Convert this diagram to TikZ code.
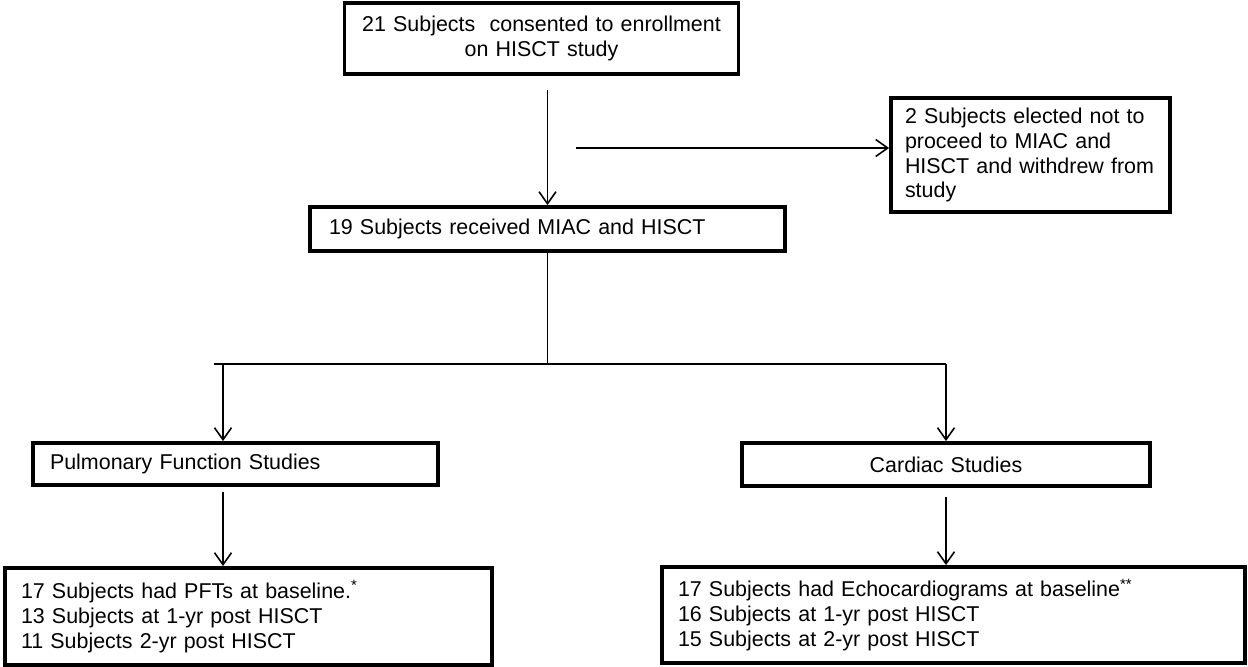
\documentclass[tikz,border=0pt]{standalone}
\usepackage{fontspec}
\setmainfont{Liberation Sans}
\newcommand{\flowsize}{\fontsize{12.2}{14.2}\selectfont}
\usetikzlibrary{positioning, arrows.meta}

\begin{document}
\begin{tikzpicture}[
    font=\flowsize,
    flowbox/.style={draw, line width=2.2pt, inner ysep=0pt, align=left},
    link/.style={line width=0.9pt},
    flowarrow/.style={link, -{Straight Barb[length=2.4mm, width=3.4mm]}}
]
    \useasboundingbox (0, 0) rectangle (24.96, -13.34);

    % ===== Enrollment =====
    \node[flowbox, align=center, text width=7.4cm, inner xsep=0.24cm, minimum height=1.42cm]
        (consent) at (10.83, -0.77) {21 Subjects\ \ consented to enrollment\\on HISCT study};

    % Treated subjects
    \node[flowbox, text width=8.74cm, inner xsep=0.38cm, minimum height=0.88cm]
        (treated) at (10.95, -4.58) {19 Subjects received MIAC and HISCT};

    % Withdrawn subjects
    \node[flowbox, text width=5.02cm, inner xsep=0.28cm, minimum height=2.28cm]
        (withdrawn) at (20.61, -3.10)
        {2 Subjects elected not to\\proceed to MIAC and\\HISCT and withdrew from\\study};

    % ===== Study arms =====
    \node[flowbox, text width=7.42cm, inner xsep=0.34cm, minimum height=0.84cm]
        (pulmonary) at (4.71, -9.28) {Pulmonary Function Studies};
    \node[flowbox, align=center, text width=7.56cm, inner xsep=0.3cm, minimum height=0.86cm]
        (cardiac) at (18.92, -9.29) {Cardiac Studies};

    % ===== Follow-up counts =====
    \node[flowbox, text width=9.1cm, inner xsep=0.32cm, minimum height=1.94cm]
        (pfts) at (4.97, -12.33)
        {17 Subjects had PFTs at baseline.\textsuperscript{*}\\13 Subjects at 1-yr post HISCT\\11 Subjects 2-yr post HISCT};
    \node[flowbox, text width=11.02cm, inner xsep=0.32cm, minimum height=1.92cm]
        (echoes) at (19.07, -12.30)
        {17 Subjects had Echocardiograms at baseline\textsuperscript{**}\\16 Subjects at 1-yr post HISCT\\15 Subjects at 2-yr post HISCT};

    % ===== Connectors =====
    \coordinate (split) at (11.52, -2.96);
    \coordinate (hstart) at (4.28, -7.28);
    \coordinate (lbranch) at (4.46, -7.28);
    \coordinate (rbranch) at (cardiac.north |- lbranch);
    \path (treated.north |- consent.south) ++(0, -0.28) coordinate (drop);
    \path (lbranch |- pulmonary.south) ++(0, -0.1) coordinate (pdrop);
    \path (cardiac.south) ++(0, -0.18) coordinate (cdrop);

    \draw[flowarrow] (drop) -- (treated.north);
    \draw[flowarrow] (split) -- (split -| withdrawn.west);

    % fork into the two arms
    \draw[link] (treated.south) -- (treated.south |- lbranch);
    \draw[link] (hstart) -- (rbranch);
    \draw[flowarrow] (lbranch) -- (lbranch |- pulmonary.north);
    \draw[flowarrow] (rbranch) -- (cardiac.north);

    \draw[flowarrow] (pdrop) -- (pdrop |- pfts.north);
    \draw[flowarrow] (cdrop) -- (cdrop |- echoes.north);

\end{tikzpicture}
\end{document}
